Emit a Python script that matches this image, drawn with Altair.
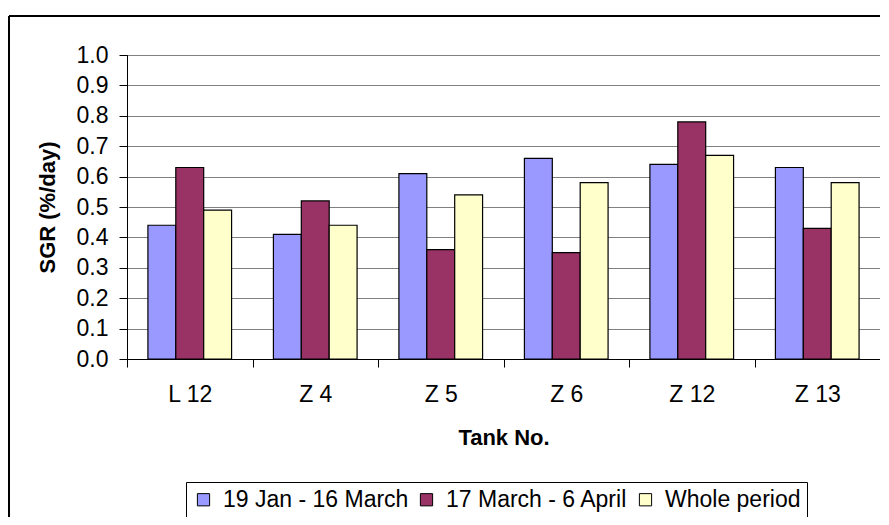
import altair as alt
import pandas as pd

tanks = ["L 12", "Z 4", "Z 5", "Z 6", "Z 12", "Z 13"]
series = ["19 Jan - 16 March", "17 March - 6 April", "Whole period"]
jan_mar = [0.44, 0.41, 0.61, 0.66, 0.64, 0.63]
mar_apr = [0.63, 0.52, 0.36, 0.35, 0.78, 0.43]
whole = [0.49, 0.44, 0.54, 0.58, 0.67, 0.58]
colors = ["#9999FF", "#993366", "#FFFFCC"]
y_ticks = [0.0, 0.1, 0.2, 0.3, 0.4, 0.5, 0.6, 0.7, 0.8, 0.9, 1.0]

rows = []
for s, vals in zip(series, [jan_mar, mar_apr, whole]):
    for t, v in zip(tanks, vals):
        rows.append({"tank": t, "series": s, "sgr": v})
df = pd.DataFrame(rows)

FONT = "Liberation Sans"
W, H = 753, 304

bars = alt.Chart(df).mark_bar(stroke="black", strokeWidth=1.2).encode(
    x=alt.X(
        "tank:N", sort=tanks,
        scale=alt.Scale(paddingInner=0, paddingOuter=0),
        axis=alt.Axis(
            title="Tank No.", labelAngle=0, tickBand="extent", tickSize=8,
            labelPadding=16, grid=False, titleX=W / 2, titleY=78,
            titleAlign="center", titleBaseline="middle",
        ),
    ),
    xOffset=alt.XOffset(
        "series:N", sort=series,
        scale=alt.Scale(paddingInner=0, paddingOuter=0.75),
    ),
    y=alt.Y(
        "sgr:Q",
        scale=alt.Scale(domain=[0, 1], nice=False),
        axis=alt.Axis(
            title="SGR (%/day)", values=y_ticks, format=".1f", grid=True,
            gridColor="#808080", gridWidth=1, tickSize=8, labelPadding=11,
            titleX=-80, titleY=H / 2, titleAngle=270, titleAlign="center",
            titleBaseline="middle",
        ),
    ),
    color=alt.Color(
        "series:N", sort=series,
        scale=alt.Scale(domain=series, range=colors),
        legend=alt.Legend(
            title=None, orient="none", legendX=59, legendY=427,
            direction="horizontal", columns=3, symbolType="square",
            symbolSize=150, symbolStrokeColor="black", symbolStrokeWidth=1,
            symbolOpacity=1, labelFont=FONT, labelFontSize=23,
            labelColor="black", labelOffset=8, columnPadding=6,
            labelLimit=0, padding=6, strokeColor="black", fillColor="white",
        ),
    ),
)

border = alt.Data(values=[{"k": 1}])
top_line = alt.Chart(border).mark_rule(color="black", strokeWidth=2).encode(
    x=alt.value(-118), x2=alt.value(W + 10), y=alt.value(-39)
)
left_line = alt.Chart(border).mark_rule(color="black", strokeWidth=2).encode(
    x=alt.value(-118), y=alt.value(-39), y2=alt.value(480)
)

chart = alt.layer(bars, top_line, left_line).properties(
    width=W, height=H,
    autosize=alt.AutoSizeParams(type="none"),
    padding={"left": 119, "top": 47, "right": 0, "bottom": 158},
    background="white",
).configure_view(
    stroke="black", strokeWidth=1
).configure_axis(
    labelFont=FONT, labelFontSize=23, labelColor="black",
    titleFont=FONT, titleFontSize=22, titleFontWeight="bold", titleColor="black",
    domainColor="black", tickColor="black", domainWidth=1, tickWidth=1,
)

chart.save("out.html", embed_options={"renderer": "svg", "actions": False})
